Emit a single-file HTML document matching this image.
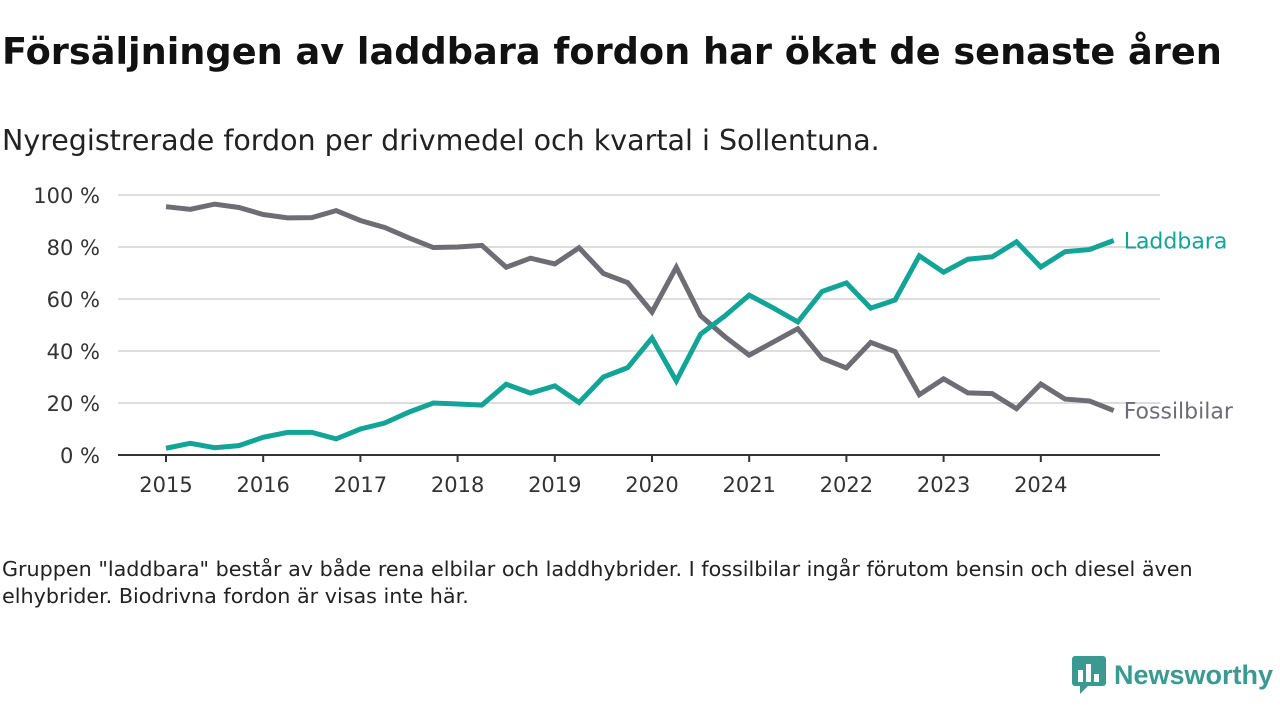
<!DOCTYPE html>
<html><head><meta charset="utf-8"><style>
body{margin:0;width:1280px;height:720px;background:#fff;font-family:"DejaVu Sans","Liberation Sans",sans-serif;color:#111;position:relative;overflow:hidden}
#t{position:absolute;left:2px;top:30px;font-size:36.7px;font-weight:bold;margin:0;white-space:nowrap;letter-spacing:0}
#s{position:absolute;left:2px;top:124px;font-size:28.5px;color:#222;white-space:nowrap}
#n{position:absolute;left:2px;top:556px;font-size:20.7px;line-height:27px;color:#222;width:1215px}
#logo{position:absolute;left:1072px;top:656px;display:flex;align-items:center;gap:8px;color:#3a9a92;font-size:27px;font-weight:bold;font-family:"Liberation Sans",sans-serif}
</style></head><body>
<h1 id="t">Försäljningen av laddbara fordon har ökat de senaste åren</h1>
<div id="s">Nyregistrerade fordon per drivmedel och kvartal i Sollentuna.</div>
<svg id="c" width="1280" height="720" style="position:absolute;left:0;top:0"></svg>
<div id="n">Gruppen "laddbara" består av både rena elbilar och laddhybrider. I fossilbilar ingår förutom bensin och diesel även elhybrider. Biodrivna fordon är visas inte här.</div>
<div id="logo"><svg width="34" height="38"><rect x="0" y="0" width="34" height="30" rx="3" fill="#3a9a92"/><polygon points="8,30 16,30 8,38" fill="#3a9a92"/><rect x="6" y="14" width="5" height="12" fill="#fff"/><rect x="14" y="8" width="5" height="18" fill="#fff"/><rect x="22" y="18" width="5" height="8" fill="#fff"/></svg><span>Newsworthy</span></div>
<script>
const years=[2015,2016,2017,2018,2019,2020,2021,2022,2023,2024];
const yTicks=[0,20,40,60,80,100];
const fossil=[95.5,94.5,96.5,95.2,92.5,91.2,91.3,94,90.2,87.5,83.5,79.8,80,80.6,72.2,75.7,73.5,79.7,69.8,66.3,55,72.2,53.6,45.5,38.4,43.5,48.6,37.2,33.5,43.3,39.8,23.2,29.3,23.9,23.6,17.8,27.3,21.5,20.8,17.1];
const laddbara=[2.6,4.5,2.8,3.6,6.8,8.7,8.7,6.2,10,12.3,16.5,20,19.6,19.2,27.2,23.8,26.6,20.2,30,33.6,45,28.5,46.5,53.5,61.5,56.5,51.2,62.9,66.2,56.5,59.6,76.6,70.3,75.3,76.2,82,72.3,78.2,79,82.5];
const svg=document.getElementById('c'),NS='http://www.w3.org/2000/svg';
const X=i=>166+i*24.3, Y=v=>455-v*2.6;
const F='DejaVu Sans, Liberation Sans, sans-serif';
function mk(tag,a,txt){const e=document.createElementNS(NS,tag);for(const k in a)e.setAttribute(k,a[k]);if(txt!=null)e.textContent=txt;svg.appendChild(e);return e;}
yTicks.forEach(v=>{
 if(v>0){const g=mk('line',{x1:118,x2:1160,y1:Y(v),y2:Y(v),stroke:'#ddd','stroke-width':2});
 
 }
 const t=mk('text',{x:100,y:Y(v)+8,'text-anchor':'end','font-size':21,fill:'#333','font-family':F},v+' %');
 
 
});
const ax=mk('line',{x1:118,x2:1160,y1:455,y2:455,stroke:'#333','stroke-width':2});


years.forEach((yr,k)=>{const x=X(k*4);
 const tk=mk('line',{x1:x,x2:x,y1:455,y2:462,stroke:'#333','stroke-width':2});
 
 
 const t=mk('text',{x:x,y:492,'text-anchor':'middle','font-size':21,fill:'#333','font-family':F},yr);
 
 
});
function series(d,col,name,label){
 const p=mk('polyline',{points:d.map((v,i)=>X(i)+','+Y(v)).join(' '),fill:'none',stroke:col,'stroke-width':5,'stroke-linejoin':'miter'});
 
 
 const t=mk('text',{x:X(d.length-1)+10,y:Y(d[d.length-1])+8,'font-size':22,fill:col,'font-family':F},label);
 
 
}
series(fossil,'#6e6d73','fossilbilar','Fossilbilar');
series(laddbara,'#12a497','laddbara','Laddbara');
</script>
</body></html>
